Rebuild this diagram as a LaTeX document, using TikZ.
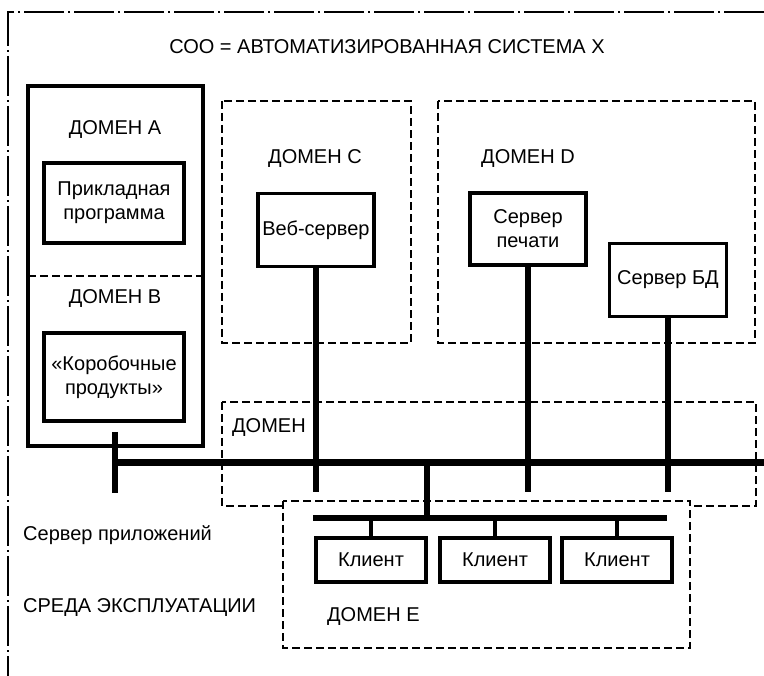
\documentclass[tikz,border=0pt]{standalone}
\usepackage{fontspec}
\setmainfont{Liberation Sans}

\tikzset{
  lbl/.style={font=\fontsize{20}{24}\selectfont, inner sep=0pt},
  srvbox/.style={draw, line width=3.5pt, align=center, inner sep=0pt,
                 font=\fontsize{20}{24}\selectfont},
  dom/.style={line width=2pt, dash pattern=on 8pt off 4pt},
  frame/.style={line width=1.5pt, dash pattern=on 40pt off 4pt on 2pt off 4pt},
  bus/.style={line width=7pt},
  stub/.style={line width=6pt},
  cstub/.style={line width=4.5pt},
}

\begin{document}
\begin{tikzpicture}[x=1pt,y=-1pt]
\useasboundingbox (0,0) rectangle (764,676);

% outer frame (open to the right and below)
\draw[frame] (764,12) -- (8,12) -- (8,676);
\node[lbl] (title) at (387,47) {СОО = АВТОМАТИЗИРОВАННАЯ СИСТЕМА X};

%--------------------------------------------------------
% domains A and B
\draw[line width=4pt] (28,86) rectangle (203,446);
\draw[dom] (28,276) -- (203,276);
\node[lbl] (domA) at (115,130) {ДОМЕН А};
\node[srvbox, minimum width=140pt, minimum height=80pt] (app) at (114,203) {Прикладная\\программа};
\node[lbl] (domB) at (115,299) {ДОМЕН В};
\node[srvbox, minimum width=140pt, minimum height=88pt] (box) at (114,377) {«Коробочные\\продукты»};

% domain C
\draw[dom] (222,101) rectangle (411,343);
\node[lbl] (domC) at (315,159) {ДОМЕН С};
\node[srvbox, minimum width=116pt, minimum height=73pt] (web) at (316,230) {Веб-сервер};

% domain D
\draw[dom] (438,101) rectangle (755,343);
\node[lbl] (domD) at (528,159) {ДОМЕН D};
\node[srvbox, minimum width=116pt, minimum height=72pt] (prn) at (528,229) {Сервер\\печати};
\node[srvbox, minimum width=117pt, minimum height=73pt] (db) at (668,280) {Сервер БД};

%--------------------------------------------------------
% domain of the bus and domain E
\draw[dom] (222,402) rectangle (756,506);
\node[lbl, anchor=west] (dom) at (232,428) {ДОМЕН};
\draw[dom, fill=white] (283,501) rectangle (690,648);
\node[lbl, anchor=west] (domE) at (327,617) {ДОМЕН Е};

\node[lbl, anchor=west] (appsrv) at (23,535) {Сервер приложений};
\node[lbl, anchor=west] (env) at (23,608) {СРЕДА ЭКСПЛУАТАЦИИ};

% main bus
\coordinate (busL) at (115,463);
\coordinate (busR) at (764,463);
\coordinate (stubend) at (0,492);
\draw[bus] (busL) -- (busR);
\coordinate (abtop) at (115,432);
\coordinate (abbot) at (115,493);
\draw[stub] (abtop) -- (abbot);
\draw[stub] (web.south) -- (web.south |- stubend);
\draw[stub] (prn.south) -- (prn.south |- stubend);
\draw[stub] (db.south) -- (db.south |- stubend);

% clients
\node[srvbox, minimum width=110pt, minimum height=44pt] (k1) at (371,560) {Клиент};
\node[srvbox, minimum width=110pt, minimum height=44pt] (k2) at (495,560) {Клиент};
\node[srvbox, minimum width=110pt, minimum height=44pt] (k3) at (617,560) {Клиент};

\coordinate (cbL) at (313,518);
\coordinate (cbR) at (667,518);
\coordinate (drop) at (427,463);
\draw[stub] (cbL) -- (cbR);
\draw[stub] (drop) -- (drop |- cbL);
\draw[cstub] (k1.north) -- (k1.north |- cbL);
\draw[cstub] (k2.north) -- (k2.north |- cbL);
\draw[cstub] (k3.north) -- (k3.north |- cbL);
\end{tikzpicture}
\end{document}
